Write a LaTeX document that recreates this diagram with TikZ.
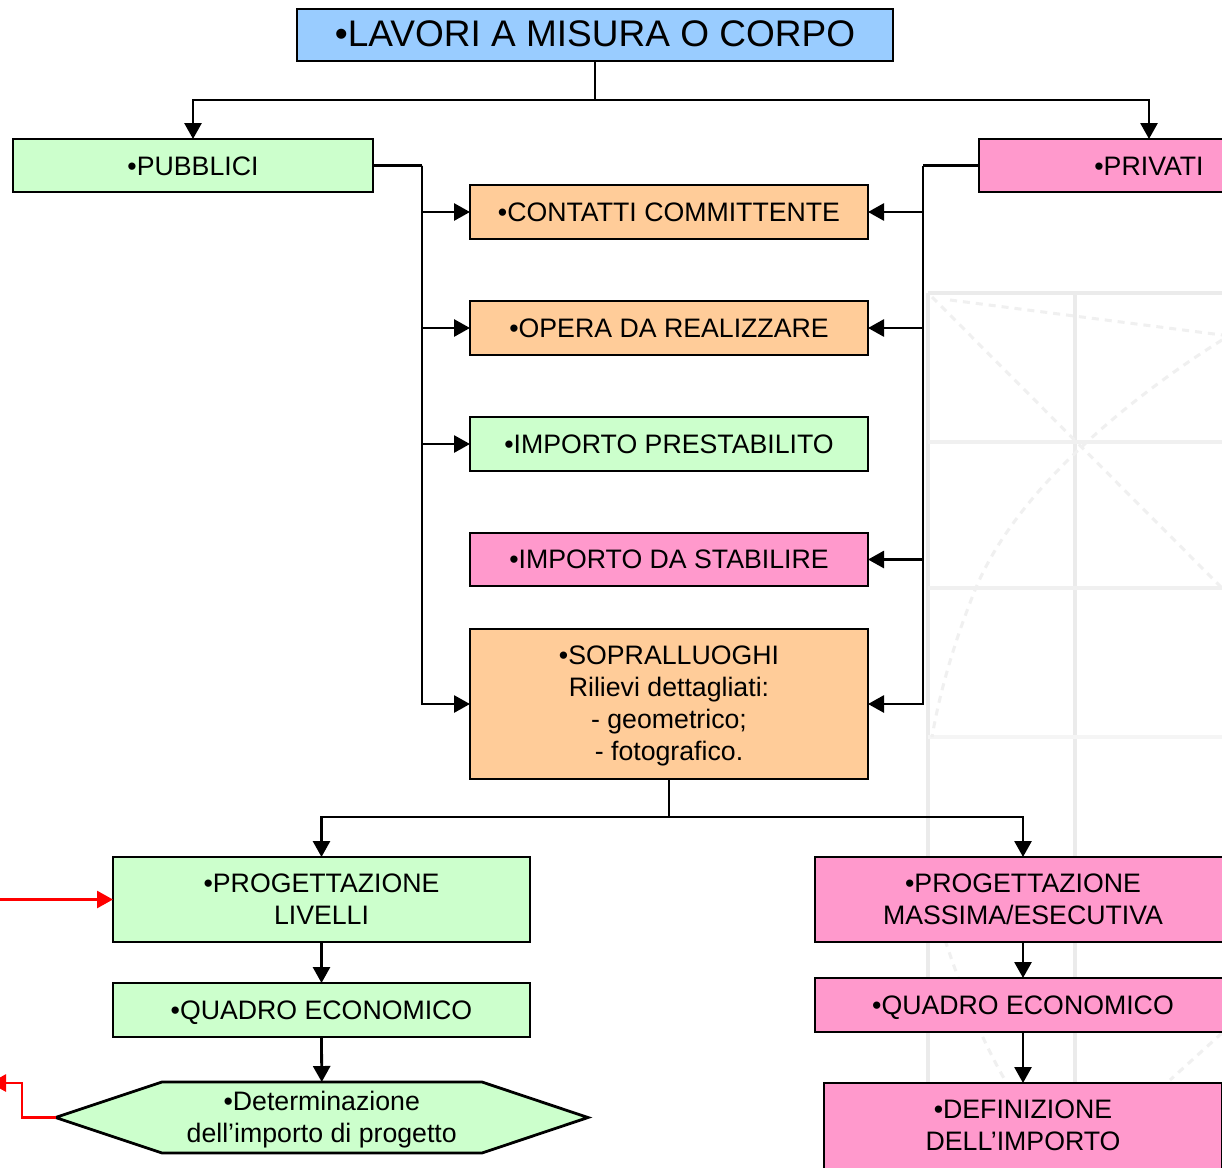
\documentclass[tikz,border=0pt]{standalone}
\usepackage{fontspec}
\setmainfont{Liberation Sans}
\usetikzlibrary{arrows.meta}
\definecolor{cblue}{HTML}{99CCFF}
\definecolor{cgreen}{HTML}{CCFFCC}
\definecolor{cpink}{HTML}{FF99CC}
\definecolor{corange}{HTML}{FFCC99}
\newcommand{\lowstrut}[1]{\rule{0pt}{#1pt}}
\tikzset{
  x=1pt,y=-1pt,
  box/.style={draw=black,line width=2.8pt,inner sep=0pt,outer sep=0pt,align=center,text=black,
    font=\fontsize{26.7}{32}\selectfont},
  boxtext/.style={align=center,inner sep=0pt,text=black,font=\fontsize{26.7}{32}\selectfont},
  conn/.style={draw=black,line width=2.8pt,-{Triangle[length=16pt,width=17pt]}},
  plain/.style={draw=black,line width=2.8pt},
  redconn/.style={draw=red,line width=2.8pt,-{Triangle[length=16pt,width=17pt]}},
  ghost/.style={draw=black!8,line width=4.5pt},
  ghostthin/.style={draw=black!6,line width=3.5pt},
  ghostfaint/.style={draw=black!4,line width=3.5pt},
  ghostdash/.style={draw=black!6,line width=3pt,dash pattern=on 7pt off 6pt},
}
\begin{document}
\begin{tikzpicture}
\clip (0,0) rectangle (1222,1167);
\fill[white] (0,0) rectangle (1222,1167);
% faint background drawing
\draw[ghost] (928,293) -- (1222,293);
\draw[ghost] (928,293) -- (928,1167);
\draw[ghost] (1075,293) -- (1075,1167);
\draw[ghostthin] (928,442) -- (1222,442);
\draw[ghostthin] (928,588) -- (1222,588);
\draw[ghostfaint] (928,737) -- (1222,737);
\draw[ghostdash] (932,297) -- (1222,588);
\draw[ghostdash] (1222,340) .. controls (1150,385) and (1020,480) .. (975,590) .. controls (955,640) and (940,690) .. (932,737);
\draw[ghostdash] (950,300) -- (1222,335);
\draw[ghostdash] (945,940) .. controls (960,985) and (980,1037) .. (1005,1080);
\draw[ghostdash] (1222,1033) -- (1170,1080);
% nodes
\node[box,fill=cblue,minimum width=596pt,minimum height=52pt,font=\fontsize{37}{44}\selectfont,text depth=2pt] (title) at (595,35) {•LAVORI A MISURA O CORPO};
\node[box,fill=cgreen,minimum width=360pt,minimum height=53pt] (pub) at (193,165.5) {\lowstrut{20.5}•PUBBLICI};
\node[box,fill=cpink,minimum width=340pt,minimum height=53pt] (priv) at (1149,165.5) {\lowstrut{20.5}•PRIVATI};
\node[box,fill=corange,minimum width=398pt,minimum height=54pt] (cont) at (669,212) {•CONTATTI COMMITTENTE};
\node[box,fill=corange,minimum width=398pt,minimum height=54pt] (opera) at (669,328) {•OPERA DA REALIZZARE};
\node[box,fill=cgreen,minimum width=398pt,minimum height=54pt] (prest) at (669,444) {•IMPORTO PRESTABILITO};
\node[box,fill=cpink,minimum width=398pt,minimum height=53pt] (stab) at (669,559.5) {•IMPORTO DA STABILIRE};
\node[box,fill=corange,minimum width=398pt,minimum height=150pt] (sopr) at (669,704) {\lowstrut{22.5}•SOPRALLUOGHI\\Rilievi dettagliati:\\- geometrico;\\- fotografico.};
\node[box,fill=cgreen,minimum width=417pt,minimum height=85pt] (liv) at (321.5,899.5) {•PROGETTAZIONE\\LIVELLI};
\node[box,fill=cgreen,minimum width=417pt,minimum height=54pt,text depth=0pt] (qel) at (321.5,1010) {•QUADRO ECONOMICO};
\node[minimum width=532.5pt,minimum height=71pt,inner sep=0pt,outer sep=0pt] (det) at (321.75,1117.5) {};
\draw[line width=2.8pt,fill=cgreen,line join=miter] (det.west) -- (162,1082) -- (482,1082) -- (det.east) -- (482,1153) -- (162,1153) -- cycle;
\node[boxtext] (dettext) at (det.center) {\lowstrut{24}•Determinazione\\dell’importo di progetto};
\node[box,fill=cpink,minimum width=416pt,minimum height=85pt] (mas) at (1023,899.5) {•PROGETTAZIONE\\MASSIMA/ESECUTIVA};
\node[box,fill=cpink,minimum width=416pt,minimum height=54pt,text depth=0pt] (qer) at (1023,1005) {•QUADRO ECONOMICO};
\node[box,fill=cpink,minimum width=398pt,minimum height=100pt] (defi) at (1023,1133) {};
\node[boxtext] (defitext) at (1023,1125) {•DEFINIZIONE\\DELL’IMPORTO};
% free ends
\coordinate (top) at (595,100);
\coordinate (ltr) at (422,165.5);
\coordinate (rtr) at (923,165.5);
\coordinate (bot) at (669,817);
\coordinate (redin) at (0,899.5);
\coordinate (redbend) at (22,1117.5);
\coordinate (redout) at (-10,1083);
% connectors
\draw[plain] (title.south) -- (top);
\draw[conn] (top) -| (pub.north);
\draw[conn] (top) -| (priv.north);
\draw[plain] (pub.east) -- (ltr);
\draw[plain] (priv.west) -- (rtr);
\draw[conn] (ltr) |- (cont.west);
\draw[conn] (ltr) |- (opera.west);
\draw[conn] (ltr) |- (prest.west);
\draw[conn] (ltr) |- (sopr.west);
\draw[conn] (rtr) |- (cont.east);
\draw[conn] (rtr) |- (opera.east);
\draw[conn] (rtr) |- (stab.east);
\draw[conn] (rtr) |- (sopr.east);
\draw[plain] (sopr.south) -- (bot);
\draw[conn] (bot) -| (liv.north);
\draw[conn] (bot) -| (mas.north);
\draw[conn] (liv.south) -- (qel.north);
\draw[conn] (qel.south) -- (det.north);
\draw[conn] (mas.south) -- (qer.north);
\draw[conn] (qer.south) -- (defi.north);
\draw[redconn] (redin) -- (liv.west);
\draw[redconn] (det.west) -- (redbend) |- (redout);
\end{tikzpicture}
\end{document}
